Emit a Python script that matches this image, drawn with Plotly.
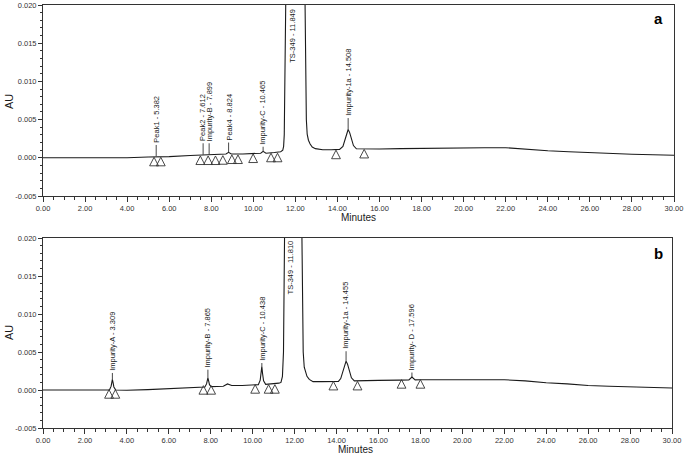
import plotly.graph_objects as go

# ---------------- data: panel a ----------------
t_a = [0.0, 1.0, 2.0, 3.0, 4.0, 5.0, 5.30, 5.382, 5.46, 6.0, 7.0, 7.5, 7.612, 7.75, 7.899, 8.05,
       8.5, 8.70, 8.824, 8.95, 9.5, 10.0, 10.35, 10.465, 10.60, 11.0, 11.30,
       11.40, 11.44, 11.47, 11.51, 11.56, 11.65, 11.849, 12.05, 12.25, 12.44, 12.48, 12.52,
       12.56, 12.62, 12.70, 12.80, 12.95, 13.3, 13.7, 14.10,
       14.26, 14.36, 14.44, 14.508, 14.58, 14.66, 14.76, 14.90,
       15.5, 16.0, 17.0, 18.0, 19.0, 20.0, 21.0, 22.0, 23.0, 24.0, 25.0, 26.0, 27.0, 28.0, 29.0, 30.0]
au_a = [0.0, 0.0, 0.0, 0.0, 0.0, 0.0001, 0.0001, 0.00015, 0.0001, 0.00015, 0.0003, 0.00035, 0.0004, 0.0004, 0.00045, 0.0004,
        0.00045, 0.0005, 0.00072, 0.0005, 0.0005, 0.0006, 0.0006, 0.00085, 0.0006, 0.0007, 0.0008,
        0.0010, 0.0015, 0.0030, 0.0100, 0.0250, 0.1200, 0.3000, 0.2000, 0.1000, 0.0250, 0.0120, 0.0050,
        0.0031, 0.0023, 0.0018, 0.0014, 0.0012, 0.00105, 0.00105, 0.0011,
        0.0015, 0.0024, 0.0033, 0.0037, 0.0033, 0.0024, 0.0016, 0.00118,
        0.00115, 0.00115, 0.0012, 0.00124, 0.0013, 0.00132, 0.00132, 0.00132, 0.0011, 0.00093, 0.0008, 0.00067, 0.00056, 0.00046, 0.0004, 0.00033]

# peak start/end triangles, panel a (time, apex AU)
tri_t_a = [5.28, 5.60, 7.48, 7.85, 8.20, 8.55, 8.98, 9.27, 9.99, 10.84, 11.15, 13.93, 15.27]
tri_top_a = [0.00007, 0.00007, 0.00024, 0.00024, 0.00024, 0.00028, 0.00037, 0.00037, 0.0005, 0.0006, 0.0006, 0.0010, 0.0011]

# peak labels, panel a
lab_t_a = [5.382, 7.612, 7.899, 8.824, 10.465, 11.849, 14.508]
lab_text_a = ["Peak1 - 5.382", "Peak2 - 7.612", "Impurity-B - 7.899", "Peak4 - 8.824",
              "Impurity-C - 10.465", "TS-349 - 11.849", "Impurity-1a - 14.508"]
lab_apex_a = [0.0002, 0.0004, 0.00045, 0.00072, 0.00085, None, 0.0037]
lab_base_a = [0.00168, 0.0019, 0.0019, 0.0020, 0.00145, 0.0198, 0.0052]

# ---------------- data: panel b ----------------
t_b = [0.0, 1.0, 2.0, 3.0, 3.17, 3.25, 3.28, 3.309, 3.34, 3.38, 3.47, 4.0, 5.0, 6.0, 7.0, 7.5, 7.72,
       7.80, 7.835, 7.865, 7.90, 7.94, 8.02, 8.6, 8.8, 9.0, 9.5, 10.0, 10.27, 10.36, 10.40, 10.438,
       10.47, 10.52, 10.62, 11.0, 11.25,
       11.35, 11.42, 11.47, 11.52, 11.60, 11.810, 12.00, 12.20, 12.33, 12.37, 12.41, 12.46, 12.52,
       12.59, 12.70, 12.88, 13.3, 13.7, 14.09,
       14.20, 14.30, 14.385, 14.455, 14.525, 14.61, 14.71, 14.85,
       15.5, 16.0, 17.0, 17.45, 17.596, 17.75, 18.0, 19.0, 20.0, 21.0, 22.0, 23.0, 24.0, 25.0, 26.0, 27.0, 28.0, 29.0, 30.0]
au_b = [0.0, 0.0, 0.0, 0.0, 0.0, 0.0005, 0.0010, 0.0014, 0.0010, 0.0004, 0.0, -0.00003, 0.00005, 0.00017, 0.0003, 0.00035, 0.0004,
        0.0008, 0.0012, 0.0016, 0.0012, 0.0007, 0.00045, 0.0005, 0.0008, 0.0006, 0.0006, 0.0007, 0.0007, 0.0013, 0.0022, 0.0031,
        0.0022, 0.0012, 0.00075, 0.0008, 0.0009,
        0.0010, 0.0018, 0.0050, 0.0200, 0.0600, 0.3000, 0.2000, 0.0800, 0.0250, 0.0120, 0.0050, 0.0030, 0.0023,
        0.0018, 0.0014, 0.0011, 0.0011, 0.0011, 0.00113,
        0.0015, 0.0025, 0.0034, 0.0038, 0.0034, 0.0025, 0.0016, 0.0012,
        0.0012, 0.00126, 0.0013, 0.00132, 0.0017, 0.00133, 0.00135, 0.00135, 0.00135, 0.00135, 0.00135, 0.0012, 0.00095, 0.0008, 0.0006, 0.0005, 0.00043, 0.00035, 0.00026]

tri_t_b = [3.15, 3.45, 7.65, 8.02, 10.12, 10.76, 11.06, 13.85, 15.0, 17.1, 18.0]
tri_top_b = [0.00004, 0.00004, 0.00057, 0.00057, 0.0007, 0.0007, 0.0007, 0.00113, 0.00113, 0.00136, 0.00136]

lab_t_b = [3.309, 7.865, 10.438, 11.810, 14.455, 17.596]
lab_text_b = ["Impurity-A - 3.309", "Impurity-B - 7.865", "Impurity-C - 10.438",
              "TS-349 - 11.810", "Impurity-1a - 14.455", "Impurity- D - 17.596"]
lab_apex_b = [0.0014, 0.0016, 0.0031, None, 0.0038, 0.0017]
lab_base_b = [0.00224, 0.00267, 0.00355, 0.0199, 0.0051, 0.0023]

# axis ticks
x_tick0, x_dtick = 0, 2
y_tickvals = [-0.005, 0.0, 0.005, 0.010, 0.015, 0.020]
y_ticktext = ["-0.005", "0.000", "0.005", "0.010", "0.015", "0.020"]

# ---------------- styling ----------------
W, H = 685, 456
FONT = "Liberation Sans, Arial, sans-serif"
INK = "#1a1a1a"
TRI_HW = 0.21     # half width of peak triangle (minutes)
TRI_H = 0.00112   # height of peak triangle (AU)


def tri_path(ts, tops):
    xs, ys = [], []
    for t, top in zip(ts, tops):
        xs += [t - TRI_HW, t + TRI_HW, t, t - TRI_HW, None]
        ys += [top - TRI_H, top - TRI_H, top, top - TRI_H, None]
    return xs, ys


fig = go.Figure()

panels = [
    ("x", "y", t_a, au_a, tri_t_a, tri_top_a, lab_t_a, lab_text_a, lab_apex_a, lab_base_a),
    ("x2", "y2", t_b, au_b, tri_t_b, tri_top_b, lab_t_b, lab_text_b, lab_apex_b, lab_base_b),
]

annotations = []
shapes = []
for xa, ya, tt, aa, trt, trtop, lt, ltxt, lapex, lbase in panels:
    fig.add_trace(go.Scatter(x=tt, y=aa, mode="lines", xaxis=xa, yaxis=ya,
                             line=dict(color=INK, width=1.1), showlegend=False, hoverinfo="skip"))
    tx, ty = tri_path(trt, trtop)
    fig.add_trace(go.Scatter(x=tx, y=ty, mode="lines", xaxis=xa, yaxis=ya,
                             line=dict(color="#333333", width=0.9), showlegend=False, hoverinfo="skip"))
    for t, txt, ap, base in zip(lt, ltxt, lapex, lbase):
        if ap is None:
            annotations.append(dict(x=t, y=base, xref=xa, yref=ya, text=txt, showarrow=False,
                                    textangle=-90, xanchor="center", yanchor="top",
                                    font=dict(family=FONT, size=7.5, color=INK)))
        else:
            annotations.append(dict(x=t, y=base, xref=xa, yref=ya, text=txt, showarrow=False,
                                    textangle=-90, xanchor="center", yanchor="bottom",
                                    font=dict(family=FONT, size=7.5, color=INK)))
            shapes.append(dict(type="line", xref=xa, yref=ya, x0=t, x1=t, y0=ap, y1=base,
                               line=dict(color="#333333", width=0.9)))

axis_common = dict(showgrid=False, zeroline=False, showline=True, mirror=True, automargin=False,
                   linecolor="#333333", linewidth=1, ticks="outside", tickcolor="#333333",
                   tickwidth=1, tickfont=dict(family=FONT, size=7.5, color="#333333"))

xa_common = dict(axis_common, range=[0, 30], tickmode="linear", tick0=x_tick0, dtick=x_dtick,
                 tickformat=".2f", ticklen=5,
                 minor=dict(ticks="outside", dtick=0.5, tick0=0, ticklen=3, tickcolor="#333333"))
ya_common = dict(axis_common, range=[-0.005, 0.020], tickmode="array", tickvals=y_tickvals,
                 ticktext=y_ticktext, ticklen=4,
                 minor=dict(ticks="outside", dtick=0.001, tick0=0, ticklen=2, tickcolor="#333333"))

fig.update_layout(
    width=W, height=H,
    margin=dict(l=0, r=0, t=0, b=0, autoexpand=False),
    paper_bgcolor="white", plot_bgcolor="white",
    xaxis=dict(xa_common, domain=[43 / W, 674 / W], anchor="y"),
    yaxis=dict(ya_common, domain=[1 - 196 / H, 1 - 5 / H], anchor="x"),
    xaxis2=dict(xa_common, domain=[43 / W, 672 / W], anchor="y2"),
    yaxis2=dict(ya_common, domain=[1 - 428 / H, 1 - 238 / H], anchor="x2"),
)

# axis titles and panel letters
for py_au, py_min, px_min, letter, py_let in [(102, 217, 358, "a", 19), (333, 449, 355, "b", 254)]:
    annotations.append(dict(x=9 / W, y=1 - py_au / H, xref="paper", yref="paper", text="AU",
                            showarrow=False, textangle=-90, xanchor="center", yanchor="middle",
                            font=dict(family=FONT, size=11, color=INK)))
    annotations.append(dict(x=px_min / W, y=1 - py_min / H, xref="paper", yref="paper", text="Minutes",
                            showarrow=False, xanchor="center", yanchor="middle",
                            font=dict(family=FONT, size=10, color=INK)))
    annotations.append(dict(x=658.5 / W, y=1 - py_let / H, xref="paper", yref="paper",
                            text="<b>%s</b>" % letter, showarrow=False, xanchor="center", yanchor="middle",
                            font=dict(family=FONT, size=15, color="#000000")))

fig.update_layout(annotations=annotations, shapes=shapes)
fig.write_html("out.html", config={"displayModeBar": False},
               post_script="document.body.style.margin='0';document.body.style.overflow='hidden';")
